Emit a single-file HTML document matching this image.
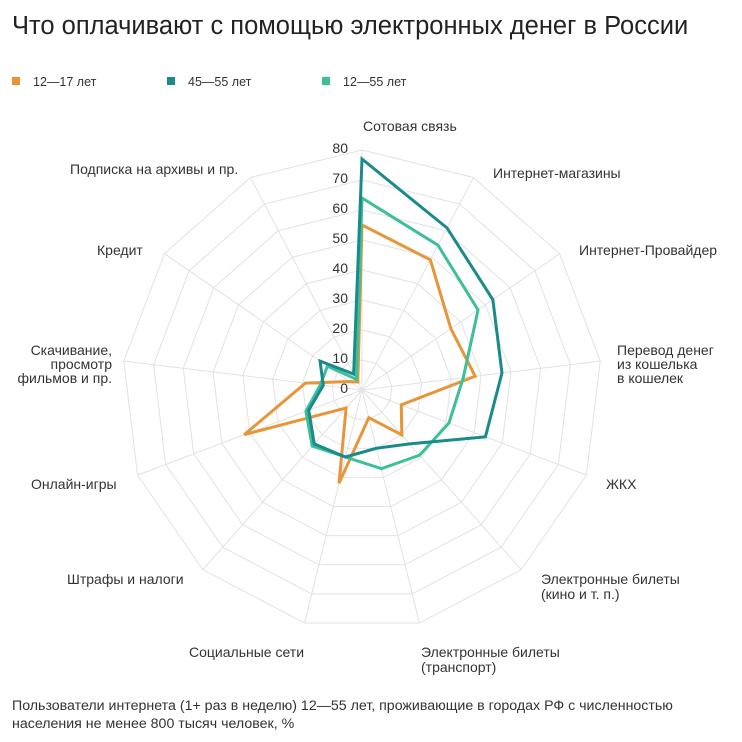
<!DOCTYPE html>
<html><head><meta charset="utf-8"><style>
body{margin:0;background:#fff;width:742px;height:742px;overflow:hidden;font-family:"Liberation Sans",sans-serif;}
svg{position:absolute;left:0;top:0}
</style></head><body>
<svg id="s" width="742" height="742" xmlns="http://www.w3.org/2000/svg" font-family="Liberation Sans, sans-serif">
<text x="12" y="34" font-size="25.5" fill="#222">Что оплачивают с помощью электронных денег в России</text>
<rect x="12" y="77" width="8" height="8" fill="#e8953a"/><text x="33" y="86" font-size="12.5" fill="#333">12—17 лет</text>
<rect x="167" y="77" width="8" height="8" fill="#1a8a8a"/><text x="188" y="86" font-size="12.5" fill="#333">45—55 лет</text>
<rect x="322" y="77" width="8" height="8" fill="#3dbf9a"/><text x="343" y="86" font-size="12.5" fill="#333">12—55 лет</text>
<g id="g"></g>
<g font-size="14" fill="#333">
<text x="363" y="131">Сотовая связь</text>
<text x="493" y="178">Интернет-магазины</text>
<text x="579" y="255">Интернет-Провайдер</text>
<text x="617" y="355">Перевод денег</text>
<text x="617" y="369">из кошелька</text>
<text x="617" y="383">в кошелек</text>
<text x="606" y="489">ЖКХ</text>
<text x="541" y="584">Электронные билеты</text>
<text x="541" y="599">(кино и т. п.)</text>
<text x="421" y="657">Электронные билеты</text>
<text x="421" y="672">(транспорт)</text>
<text x="189" y="657">Социальные сети</text>
<text x="67" y="584">Штрафы и налоги</text>
<text x="31" y="489">Онлайн-игры</text>
<text x="112" y="355" text-anchor="end">Скачивание,</text>
<text x="112" y="369" text-anchor="end">просмотр</text>
<text x="112" y="383" text-anchor="end">фильмов и пр.</text>
<text x="97" y="255">Кредит</text>
<text x="70" y="174">Подписка на архивы и пр.</text>
</g>
<text x="12" y="710" font-size="14.2" fill="#333">Пользователи интернета (1+ раз в неделю) 12—55 лет, проживающие в городах РФ с численностью</text>
<text x="12" y="728" font-size="14.2" fill="#333">населения не менее 800 тысяч человек, %</text>
</svg>
<script>
var cx=362,cy=390,R=240,N=13,ns="http://www.w3.org/2000/svg",g=document.getElementById('g');
function pt(k,v){var a=k*2*Math.PI/N,r=v/80*R;return [cx+r*Math.sin(a),cy-r*Math.cos(a)];}
function el(t,at){var e=document.createElementNS(ns,t);for(var k in at)e.setAttribute(k,at[k]);g.appendChild(e);return e;}
for(var k=0;k<N;k++){var p=pt(k,80);el('line',{x1:cx,y1:cy,x2:p[0],y2:p[1],stroke:'#e2e2e2','stroke-width':1});}
for(var v=10;v<=80;v+=10){var s=[];for(var k=0;k<N;k++)s.push(pt(k,v).join(','));el('polygon',{points:s.join(' '),fill:'none',stroke:'#e2e2e2','stroke-width':1});}
function ser(vals,c){var s=[];vals.forEach(function(v,k){s.push(pt(k,v).join(','))});el('polygon',{points:s.join(' '),fill:'none',stroke:c,'stroke-width':3,'stroke-linejoin':'miter'});}
ser([55,49,36,38,14,20,9.5,32,8,42,19,5,3],'#e8953a');
ser([64,54.5,47,34,31,29,27,23,25,20,14,14,4],'#3dbf9a');
ser([77,61,53,47,44,24,20,23,24,19,13,17,6],'#1a8a8a');
for(var v=0;v<=80;v+=10){var e=el('text',{x:348,y:cy-v*3+3,'font-size':14,fill:'#333','text-anchor':'end'});e.textContent=v;}
</script>
</body></html>
